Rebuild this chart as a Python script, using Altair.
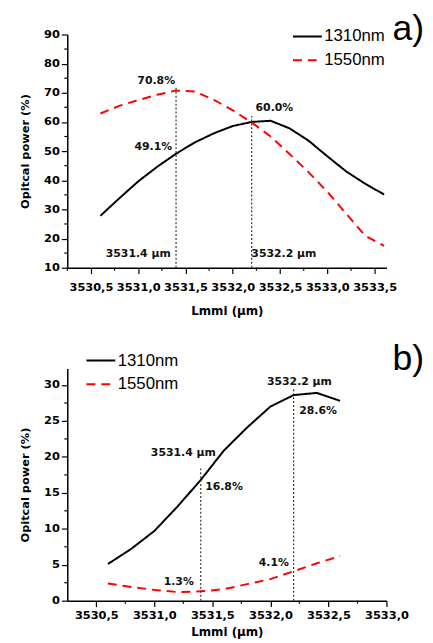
import altair as alt
import pandas as pd

# ---------- panel a) ----------
a_x = [3530.6, 3530.8, 3531.0, 3531.2, 3531.4, 3531.6, 3531.8, 3532.0,
       3532.2, 3532.4, 3532.6, 3532.8, 3533.0, 3533.2, 3533.4, 3533.6]
a_1310 = [27.8, 33.8, 39.6, 44.6, 49.1, 53.0, 56.1, 58.6,
          60.0, 60.4, 57.8, 53.6, 48.2, 43.0, 38.8, 35.1]
a_1550 = [62.9, 65.5, 67.5, 69.3, 70.8, 70.4, 67.6, 64.0,
          59.8, 55.0, 49.0, 42.8, 36.0, 28.5, 21.0, 17.5]

# ---------- panel b) ----------
b_x = [3530.6, 3530.8, 3531.0, 3531.2, 3531.4, 3531.6, 3531.8, 3532.0,
       3532.2, 3532.4, 3532.6]
b_1310 = [5.1, 7.2, 9.7, 13.1, 16.8, 20.9, 24.1, 27.0, 28.6, 28.9, 27.8]
b_1550 = [2.4, 1.9, 1.5, 1.2, 1.3, 1.6, 2.3, 3.0, 4.1, 5.2, 6.2]

series_names = ["1310nm", "1550nm"]
series_colors = ["#000000", "#ff0000"]

# axis ticks
a_xmajor = [3530.5, 3531.0, 3531.5, 3532.0, 3532.5, 3533.0, 3533.5]
a_xminor = [3530.25, 3530.75, 3531.25, 3531.75, 3532.25, 3532.75, 3533.25]
a_ymajor = [10, 20, 30, 40, 50, 60, 70, 80, 90]
a_yminor = [15, 25, 35, 45, 55, 65, 75, 85]
b_xmajor = [3530.5, 3531.0, 3531.5, 3532.0, 3532.5, 3533.0]
b_xminor = [3530.75, 3531.25, 3531.75, 3532.25, 3532.75]
b_ymajor = [0, 5, 10, 15, 20, 25, 30]
b_yminor = [2.5, 7.5, 12.5, 17.5, 22.5, 27.5]

# marker lines (x, top y)
a_vlines_x = [3531.4, 3532.2]
a_vlines_top = [72.0, 62.0]
b_vlines_x = [3531.4, 3532.2]
b_vlines_top = [18.4, 29.4]

# annotations (x, y, text)
a_ann_x = [3531.19, 3531.16, 3532.44, 3531.0, 3532.54]
a_ann_y = [74.1, 51.4, 64.6, 14.7, 14.7]
a_ann_t = ["70.8%", "49.1%", "60.0%", "3531.4 µm", "3532.2 µm"]
b_ann_x = [3531.25, 3531.60, 3532.25, 3532.41, 3531.21, 3532.03]
b_ann_y = [20.5, 15.8, 30.4, 26.4, 2.6, 5.2]
b_ann_t = ["3531.4 µm", "16.8%", "3532.2 µm", "28.6%", "1.3%", "4.1%"]

FONT = "DejaVu Sans"


def long_df(xs, s1, s2):
    rows = []
    for name, ys in zip(series_names, [s1, s2]):
        for x, y in zip(xs, ys):
            rows.append({"x": x, "y": y, "series": name})
    return pd.DataFrame(rows)


def legend(leg_x, leg_y):
    return alt.Legend(title=None, orient="none", legendX=leg_x, legendY=leg_y,
                      symbolType="stroke", symbolSize=850, symbolStrokeWidth=2,
                      labelFontSize=17, labelFont="Liberation Sans", labelColor="black",
                      rowPadding=-15, labelOffset=1, padding=0)


def panel(xs, s1, s2, vx, vtop, ax, ay, at, xdom, ydom, xmaj, xmin, ymaj, ymin,
          leg_x, leg_y, tag, tag_x, tag_y, w, h, xlabel_pad, xtitle_pad):
    df = long_df(xs, s1, s2)
    xscale = alt.Scale(domain=xdom, nice=False, zero=False)
    yscale = alt.Scale(domain=ydom, nice=False, zero=False)
    xaxis = alt.Axis(
        title="Lmmi (µm)", values=xmaj, grid=False, titlePadding=xtitle_pad,
        labelExpr="replace(format(datum.value, '.1f'), '.', ',')",
        tickSize=6, labelOverlap=False, labelFlush=False, labelPadding=xlabel_pad,
    )
    yaxis = alt.Axis(
        title="Opitcal power (%)", values=ymaj, grid=False, titlePadding=13,
        format="d", tickSize=6, labelOverlap=False, labelPadding=2, titleFontSize=11.5,
    )
    lines = alt.Chart(df).mark_line(strokeWidth=2).encode(
        x=alt.X("x:Q", scale=xscale, axis=xaxis),
        y=alt.Y("y:Q", scale=yscale, axis=yaxis),
        color=alt.Color("series:N", scale=alt.Scale(domain=series_names, range=series_colors),
                        legend=legend(leg_x, leg_y)),
        strokeDash=alt.StrokeDash("series:N",
                                  scale=alt.Scale(domain=series_names, range=[[1, 0], [9, 6]]),
                                  legend=legend(leg_x, leg_y)),
    )
    # minor ticks
    mx = alt.Chart(pd.DataFrame({"x": xmin, "y": [ydom[0]] * len(xmin)})).mark_rule(
        color="black", strokeWidth=1.2).encode(
        x=alt.X("x:Q", axis=xaxis), y=alt.Y("y:Q", axis=yaxis), y2=alt.value(h + 3))
    my = alt.Chart(pd.DataFrame({"y": ymin})).mark_rule(
        color="black", strokeWidth=1.2).encode(
        y=alt.Y("y:Q", axis=yaxis), x=alt.value(-3), x2=alt.value(0))
    vdf = pd.DataFrame({"x": vx, "y0": [ydom[0]] * len(vx), "y1": vtop})
    vl = alt.Chart(vdf).mark_rule(color="#333333", strokeDash=[2, 2], strokeWidth=1.2).encode(
        x=alt.X("x:Q", axis=xaxis), y=alt.Y("y0:Q", axis=yaxis), y2="y1:Q")
    adf = pd.DataFrame({"x": ax, "y": ay, "t": at})
    ann = alt.Chart(adf).mark_text(font=FONT, fontSize=11, fontWeight="bold", color="#111111").encode(
        x=alt.X("x:Q", axis=xaxis), y=alt.Y("y:Q", axis=yaxis), text="t:N")
    tg = alt.Chart(pd.DataFrame({"t": [tag]})).mark_text(
        font="Liberation Sans", fontSize=36, align="center", baseline="middle", color="black"
    ).encode(x=alt.value(tag_x), y=alt.value(tag_y), text="t:N")
    return alt.layer(lines, mx, my, vl, ann, tg).properties(width=w, height=h)


top = panel(a_x, a_1310, a_1550, a_vlines_x, a_vlines_top, a_ann_x, a_ann_y, a_ann_t,
            [3530.25, 3533.625], [10, 90], a_xmajor, a_xminor, a_ymajor, a_yminor,
            227, -14, "a)", 345, -5, 323, 236, 8, 13)
bottom = panel(b_x, b_1310, b_1550, b_vlines_x, b_vlines_top, b_ann_x, b_ann_y, b_ann_t,
               [3530.25, 3533.0], [0, 32.3], b_xmajor, b_xminor, b_ymajor, b_yminor,
               18, -24, "b)", 345, -9, 323, 235, 3, 6)

chart = alt.vconcat(top, bottom, spacing=102, bounds="flush").resolve_legend(
    color="independent", strokeDash="independent"
).properties(
    padding={"left": 11, "top": 0, "right": 0, "bottom": 0}
).configure_view(stroke=None).configure_axis(
    domainColor="black", domainWidth=1.5, tickColor="black", tickWidth=1.2,
    labelFont=FONT, labelFontSize=11.5, labelFontWeight="bold", labelColor="black",
    titleFont=FONT, titleFontSize=12, titleFontWeight="bold", titleColor="black",
    labelOverlap=False,
)

chart.save("out.html", embed_options={"renderer": "svg", "actions": False})
